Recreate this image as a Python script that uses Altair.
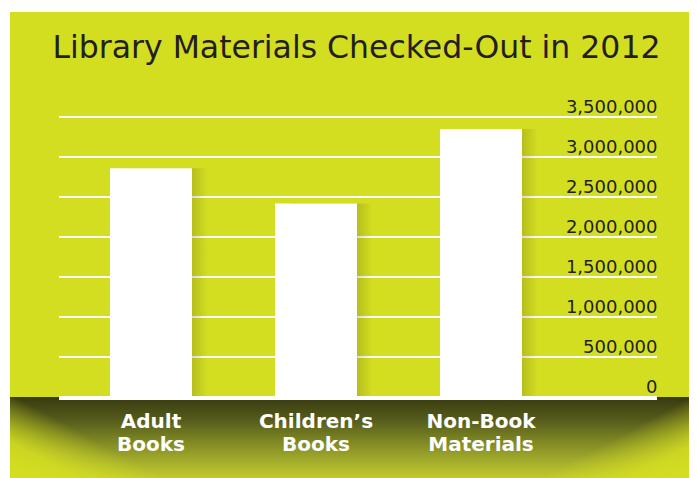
import json
import altair as alt
import pandas as pd

# ---- data ----
categories = ["Adult Books", "Children’s Books", "Non-Book Materials"]
checkouts = [2860000, 2420000, 3350000]
tick_values = [0, 500000, 1000000, 1500000, 2000000, 2500000, 3000000, 3500000]
tick_labels = ["0", "500,000", "1,000,000", "1,500,000", "2,000,000", "2,500,000", "3,000,000", "3,500,000"]
title_text = "Library Materials Checked-Out in 2012"

LIME = "#d4de21"
INK = "#231f20"

bars_df = pd.DataFrame({"category": categories, "value": checkouts})
grid_df = pd.DataFrame({"value": tick_values[1:]})
base_df = pd.DataFrame({"value": [0]})
one = pd.DataFrame({"k": [0]})

W, H = 598, 280

xscale = alt.Scale(domain=categories, range=[9.5, 504.5], paddingInner=0.503, paddingOuter=0.2515)
yscale = alt.Scale(domain=[0, 3500000], nice=False, zero=True)

label_map = json.dumps({str(v): s for v, s in zip(tick_values, tick_labels)}, ensure_ascii=False)
yaxis = alt.Axis(
    orient="right", values=tick_values, labelExpr=f"{label_map}['' + datum.value]",
    grid=False, domain=False, ticks=False,
    labelAlign="right", labelPadding=0, labelBaseline="alphabetic", labelOffset=-5,
    labelFont="DejaVu Sans", labelFontSize=18, labelColor=INK, title=None, zindex=1)
xaxis = alt.Axis(
    orient="bottom", labelExpr="split(datum.label, ' ')", labelAngle=0,
    labelFont="DejaVu Sans", labelFontWeight="bold", labelFontSize=20,
    labelColor="white", labelLineHeight=23, labelPadding=14, labelBaseline="top",
    domain=False, ticks=False, grid=False, title=None, zindex=1)

# background
bg = alt.Chart(one).mark_rect(fill=LIME, stroke=None).encode(
    x=alt.value(-49), x2=alt.value(650), y=alt.value(-105), y2=alt.value(380)
)

title = alt.Chart(pd.DataFrame({"t": [title_text]})).mark_text(
    font="DejaVu Sans", fontSize=31.5, color=INK, align="center", baseline="alphabetic"
).encode(x=alt.value(297.5), y=alt.value(-59.5), text="t:N")

grid = alt.Chart(grid_df).mark_rule(color="white", strokeWidth=2).encode(
    x=alt.value(0), x2=alt.value(W),
    y=alt.Y("value:Q", scale=yscale, axis=yaxis),
)

shadow_grad = alt.LinearGradient(
    gradient="linear", x1=0, y1=0, x2=1, y2=0,
    stops=[alt.GradientStop(color="rgba(40,45,0,0.18)", offset=0),
           alt.GradientStop(color="rgba(40,45,0,0.18)", offset=0.8),
           alt.GradientStop(color="rgba(40,45,0,0)", offset=1)],
)
bar_shadow = alt.Chart(bars_df).mark_bar(fill=shadow_grad, xOffset=16).encode(
    x=alt.X("category:N", scale=xscale, axis=xaxis, sort=categories),
    y=alt.Y("value:Q", scale=yscale, axis=yaxis),
    y2=alt.datum(0),
)

bars = alt.Chart(bars_df).mark_bar(color="white").encode(
    x=alt.X("category:N", scale=xscale, sort=categories, axis=xaxis),
    y=alt.Y("value:Q", scale=yscale, axis=yaxis),
)

floor_grad = alt.LinearGradient(
    gradient="linear", x1=0, y1=0, x2=0, y2=1,
    stops=[alt.GradientStop(color="#383a10", offset=0),
           alt.GradientStop(color="#555b1b", offset=0.28),
           alt.GradientStop(color="#7c8423", offset=0.53),
           alt.GradientStop(color="#a2ab2b", offset=0.78),
           alt.GradientStop(color="#c0c92b", offset=1)],
)
floor = alt.Chart(one).mark_rect(fill=floor_grad, stroke=None).encode(
    x=alt.value(-49), x2=alt.value(650), y=alt.value(H), y2=alt.value(H + 81)
)

def corner(left):
    if left:
        x1, y1, x2, y2 = 0, 1, 1, 0
    else:
        x1, y1, x2, y2 = 1, 1, 0, 0
    return alt.LinearGradient(
        gradient="linear", x1=x1, y1=y1, x2=x2, y2=y2,
        stops=[alt.GradientStop(color="rgba(212,222,33,1)", offset=0),
               alt.GradientStop(color="rgba(212,222,33,0.88)", offset=0.22),
               alt.GradientStop(color="rgba(212,222,33,0.35)", offset=0.4),
               alt.GradientStop(color="rgba(212,222,33,0)", offset=0.52),
               alt.GradientStop(color="rgba(212,222,33,0)", offset=1)],
    )

left_fade = alt.Chart(one).mark_rect(fill=corner(True), stroke=None).encode(
    x=alt.value(-49), x2=alt.value(101), y=alt.value(H), y2=alt.value(H + 81)
)
right_fade = alt.Chart(one).mark_rect(fill=corner(False), stroke=None).encode(
    x=alt.value(488), x2=alt.value(638), y=alt.value(H), y2=alt.value(H + 81)
)

baseline = alt.Chart(base_df).mark_rule(color="white", strokeWidth=4, yOffset=1).encode(
    x=alt.value(0), x2=alt.value(W), y=alt.Y("value:Q", scale=yscale, axis=yaxis)
)

chart = alt.layer(
    bg, title, grid, bar_shadow, bars, floor, left_fade, right_fade, baseline
).properties(
    width=W, height=H,
    autosize=alt.AutoSizeParams(type="none"),
    padding={"left": 51, "top": 109, "right": 32, "bottom": 81},
    background="white",
).configure_view(stroke=None)

chart.save("out.html", embed_options={"renderer": "svg", "actions": False})
